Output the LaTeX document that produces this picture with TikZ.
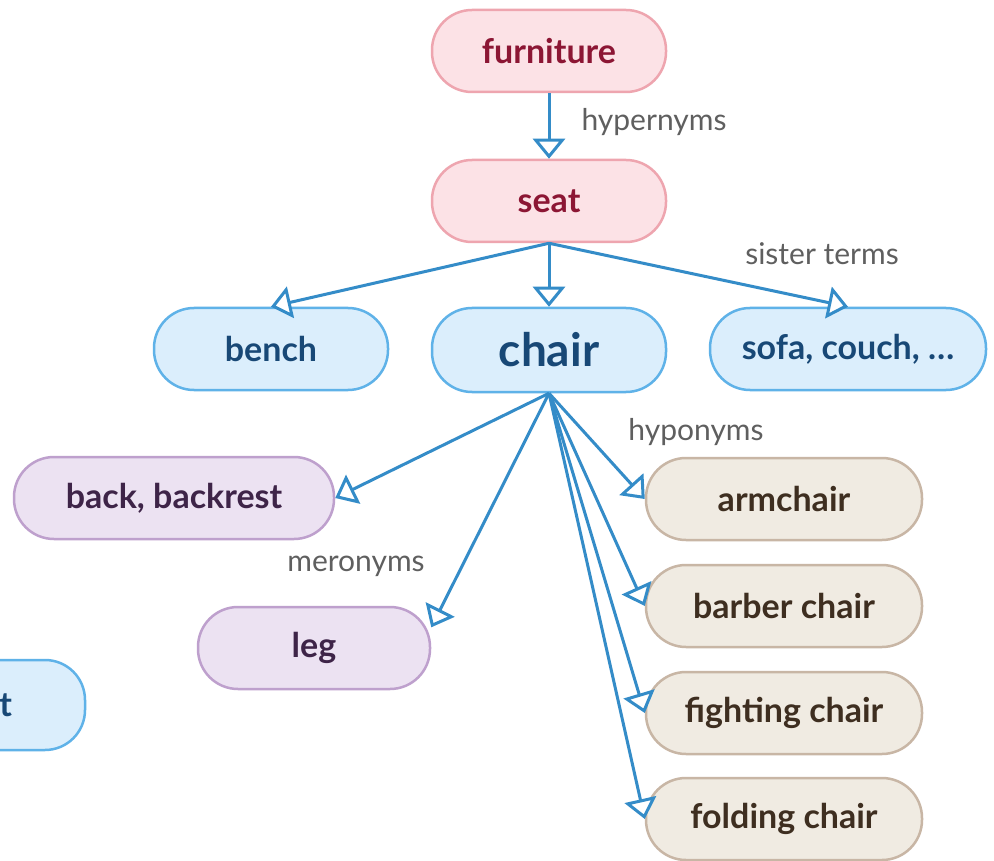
\documentclass[tikz,border=0pt]{standalone}
\usepackage{fontspec}
\setmainfont{Lato}
\usetikzlibrary{arrows.meta}

\definecolor{pinkfill}{RGB}{252,226,230}
\definecolor{pinkline}{RGB}{238,165,175}
\definecolor{pinktext}{RGB}{140,22,52}
\definecolor{bluefill}{RGB}{219,238,252}
\definecolor{blueline}{RGB}{95,178,232}
\definecolor{bluetext}{RGB}{24,72,118}
\definecolor{purplefill}{RGB}{236,226,242}
\definecolor{purpleline}{RGB}{190,160,205}
\definecolor{purpletext}{RGB}{62,36,72}
\definecolor{beigefill}{RGB}{240,235,226}
\definecolor{beigeline}{RGB}{200,182,165}
\definecolor{beigetext}{RGB}{62,46,32}
\definecolor{arrowblue}{RGB}{52,140,200}
\definecolor{labelgray}{RGB}{95,95,95}

\tikzset{
  term/.style={rectangle, rounded corners=40pt, line width=2.5pt,
    minimum height=82pt, inner sep=0pt,
    font=\fontsize{34}{38}\selectfont\bfseries},
  hyperterm/.style={term, fill=pinkfill, draw=pinkline, text=pinktext},
  sisterterm/.style={term, fill=bluefill, draw=blueline, text=bluetext},
  partterm/.style={term, fill=purplefill, draw=purpleline, text=purpletext},
  kindterm/.style={term, fill=beigefill, draw=beigeline, text=beigetext,
    minimum width=276pt},
  rel/.style={draw=arrowblue, line width=3pt,
    -{Triangle[length=20pt,width=32pt,fill=white]}},
  rellabel/.style={text=labelgray, inner sep=0pt,
    font=\fontsize{30}{34}\selectfont},
}

\begin{document}
\begin{tikzpicture}[x=1pt,y=-1pt]
  \useasboundingbox[fill=white] (0,0) rectangle (994,861);

  % hypernym chain
  \node[hyperterm, minimum width=234pt] (furniture) at (549,51) {furniture};
  \node[hyperterm, minimum width=234pt] (seat) at (549,201) {seat};

  % sister terms
  \node[sisterterm, minimum width=234pt] (bench) at (271,349) {bench};
  \node[sisterterm, minimum width=234pt, minimum height=84pt,
        font=\fontsize{46}{50}\selectfont\bfseries] (chair) at (549,350) {chair};
  \node[sisterterm, minimum width=276pt] (sofa) at (848,349) {sofa, couch, \dots};

  % a term running off the left edge
  \begin{scope}
    \clip (0,0) rectangle (994,861);
    \node[sisterterm, minimum width=236pt, minimum height=90pt,
          text width=90pt, align=right] (offedge) at (-33,705) {t};
  \end{scope}

  % meronyms
  \node[partterm, minimum width=320pt] (back) at (174,498) {back, backrest};
  \node[partterm, minimum width=232pt] (leg) at (314,648) {leg};

  % hyponyms
  \node[kindterm] (armchair) at (784,499) {armchair};
  \node[kindterm] (barber) at (784,606) {barber chair};
  \node[kindterm] (fighting) at (784,713) {fighting chair};
  \node[kindterm] (folding) at (784,819) {folding chair};

  % relations
  \draw[rel] (furniture.south) -- (seat.north);
  \draw[rel] (seat.south) -- (bench.north);
  \draw[rel] (seat.south) -- (chair.north);
  \draw[rel] (seat.south) -- (sofa.north);

  \draw[rel] (chair.south) -- (back.east);
  \draw[rel] (chair.south) -- (leg.10);
  \draw[rel] (chair.south) -- (armchair.west);
  \draw[rel] (chair.south) -- (barber.west);
  \draw[rel] (chair.south) -- (fighting.west);
  \draw[rel] (chair.south) -- (folding.west);

  % relation labels
  \node[rellabel] (lhyper) at (654,122) {hypernyms};
  \node[rellabel] (lsister) at (822,254) {sister terms};
  \node[rellabel] (lhypo) at (696,432) {hyponyms};
  \node[rellabel] (lmero) at (356,566) {meronyms};
\end{tikzpicture}
\end{document}
